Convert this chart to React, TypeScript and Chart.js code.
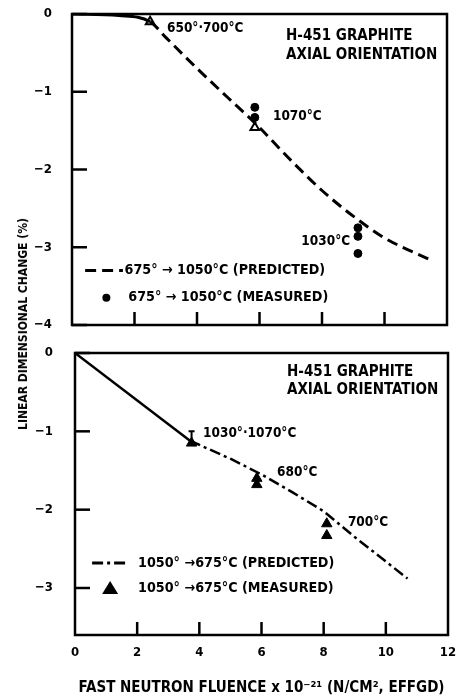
import React, { useEffect, useRef } from "react";
import Chart from "chart.js/auto";

const FONT = '"DejaVu Sans Condensed", "Liberation Sans Narrow", "DejaVu Sans", sans-serif';

// ---- axes ----
const xTicks = [0, 2, 4, 6, 8, 10, 12];
const xInnerTicks = [2, 4, 6, 8, 10];
const topYTicks = [0, -1, -2, -3, -4];
const bottomYTicks = [0, -1, -2, -3];

// ---- top panel data ----
const topPredX = [0, 1.5, 2.5, 3, 4, 5, 5.9, 7, 8, 9, 10, 11.4];
const topPredY = [0, -0.02, -0.1, -0.3, -0.7, -1.08, -1.42, -1.88, -2.27, -2.6, -2.88, -3.15];
const topMeasX = [5.85, 5.85, 9.15, 9.15, 9.15];
const topMeasY = [-1.2, -1.33, -2.75, -2.86, -3.08];
const topOpenTriX = [2.5, 5.85];
const topOpenTriY = [-0.1, -1.46];

// ---- bottom panel data ----
const botPredX = [0, 3.7, 5, 6, 7, 8, 9, 10.7];
const botPredY = [0, -1.12, -1.35, -1.55, -1.78, -2.02, -2.35, -2.88];
const botMeasX = [3.75, 5.85, 5.85, 8.1, 8.1];
const botMeasY = [-1.15, -1.6, -1.68, -2.18, -2.33];
const botErrX = [3.75];
const botErrLo = [-1.15];
const botErrHi = [-1.0];

// ---- text annotations (anchored in data units) ----
const topNotes = [
  { text: "650°·700°C", x: 3.04, y: -0.19, align: "left", kind: "temp" },
  { text: "H-451 GRAPHITE", x: 6.85, y: -0.28, align: "left", kind: "head" },
  { text: "AXIAL ORIENTATION", x: 6.85, y: -0.53, align: "left", kind: "head" },
  { text: "1070°C", x: 6.43, y: -1.32, align: "left", kind: "temp" },
  { text: "1030°C", x: 8.9, y: -2.93, align: "right", kind: "temp" },
];
const botNotes = [
  { text: "H-451 GRAPHITE", x: 6.82, y: -0.24, align: "left", kind: "head" },
  { text: "AXIAL ORIENTATION", x: 6.82, y: -0.47, align: "left", kind: "head" },
  { text: "1030°·1070°C", x: 4.12, y: -1.03, align: "left", kind: "temp" },
  { text: "680°C", x: 6.5, y: -1.53, align: "left", kind: "temp" },
  { text: "700°C", x: 8.78, y: -2.17, align: "left", kind: "temp" },
];
const topLegend = [
  { kind: "dash", x0: 0.42, x1: 1.63, y: -3.3, tx: 1.68, text: "675° → 1050°C (PREDICTED)" },
  { kind: "circle", x0: 1.1, x1: 1.1, y: -3.65, tx: 1.8, text: "675° → 1050°C (MEASURED)" },
];
const botLegend = [
  { kind: "dashdot", x0: 0.55, x1: 1.7, y: -2.68, tx: 2.03, text: "1050° →675°C (PREDICTED)" },
  { kind: "triangle", x0: 1.13, x1: 1.13, y: -3.0, tx: 2.03, text: "1050° →675°C (MEASURED)" },
];

const DASH = [11, 6];
const DASHDOT = [11, 4, 3, 4];
const NOTE_SIZE: Record<string, number> = { head: 15, temp: 13.5 };
const LEGEND_SIZE = 14.2;

function pts(xs: number[], ys: number[]) {
  return xs.map((x, i) => ({ x, y: ys[i] }));
}

function decorPlugin(cfg: any) {
  return {
    id: "decor",
    afterDatasetsDraw(chart: any) {
      const { ctx, chartArea: a, scales } = chart;
      const sx = scales.x, sy = scales.y;
      ctx.save();
      ctx.strokeStyle = "#000";
      ctx.fillStyle = "#000";
      // frame
      ctx.lineWidth = 2.5;
      ctx.strokeRect(a.left, a.top, a.right - a.left, a.bottom - a.top);
      // inward ticks
      cfg.yTicks.forEach((v: number) => {
        const py = sy.getPixelForValue(v);
        ctx.beginPath();
        ctx.moveTo(a.left, py);
        ctx.lineTo(a.left + 15, py);
        ctx.stroke();
      });
      xInnerTicks.forEach((v) => {
        const px = sx.getPixelForValue(v);
        ctx.beginPath();
        ctx.moveTo(px, a.bottom);
        ctx.lineTo(px, a.bottom - 13);
        ctx.stroke();
      });
      // error bars
      (cfg.err || []).forEach((e: any) => {
        const px = sx.getPixelForValue(e.x);
        const p1 = sy.getPixelForValue(e.lo);
        const p2 = sy.getPixelForValue(e.hi);
        ctx.lineWidth = 2;
        ctx.beginPath();
        ctx.moveTo(px, p1);
        ctx.lineTo(px, p2);
        ctx.moveTo(px - 3, p2);
        ctx.lineTo(px + 3, p2);
        ctx.stroke();
      });
      // notes
      ctx.textBaseline = "middle";
      cfg.notes.forEach((n: any) => {
        ctx.font = `bold ${NOTE_SIZE[n.kind]}px ${FONT}`;
        ctx.textAlign = n.align;
        ctx.fillText(n.text, sx.getPixelForValue(n.x), sy.getPixelForValue(n.y));
      });
      // legend
      ctx.font = `bold ${LEGEND_SIZE}px ${FONT}`;
      cfg.legend.forEach((l: any) => {
        const py = sy.getPixelForValue(l.y);
        const p0 = sx.getPixelForValue(l.x0);
        const p1 = sx.getPixelForValue(l.x1);
        if (l.kind === "dash" || l.kind === "dashdot") {
          ctx.lineWidth = 3;
          ctx.setLineDash(l.kind === "dash" ? DASH : DASHDOT);
          ctx.beginPath();
          ctx.moveTo(p0, py);
          ctx.lineTo(p1, py);
          ctx.stroke();
          ctx.setLineDash([]);
        } else if (l.kind === "circle") {
          ctx.beginPath();
          ctx.arc(p0, py, 4, 0, Math.PI * 2);
          ctx.fill();
        } else {
          ctx.beginPath();
          ctx.moveTo(p0, py - 7);
          ctx.lineTo(p0 + 8, py + 6);
          ctx.lineTo(p0 - 8, py + 6);
          ctx.closePath();
          ctx.fill();
        }
        ctx.textAlign = "left";
        ctx.fillText(l.text, sx.getPixelForValue(l.tx), py);
      });
      ctx.restore();
    },
  };
}

function fmt(v: number) {
  return v === 0 ? "0" : "−" + Math.abs(v);
}

export default function App() {
  const topRef = useRef<HTMLCanvasElement>(null);
  const botRef = useRef<HTMLCanvasElement>(null);

  useEffect(() => {
    const tickFont = { family: FONT, size: 13, weight: "bold" as const };
    const top = new Chart(topRef.current!, {
      type: "scatter",
      data: {
        datasets: [
          {
            data: pts(topPredX, topPredY),
            showLine: true,
            borderColor: "#000",
            borderWidth: 3,
            pointRadius: 0,
            cubicInterpolationMode: "monotone",
            segment: { borderDash: (c: any) => (c.p0DataIndex >= 2 ? DASH : undefined) },
          } as any,
          {
            data: pts(topMeasX, topMeasY),
            pointStyle: "circle",
            pointRadius: 4,
            backgroundColor: "#000",
            borderColor: "#000",
            borderWidth: 1,
          },
          {
            data: pts(topOpenTriX, topOpenTriY),
            pointStyle: "triangle",
            pointRadius: 5,
            backgroundColor: "#fff",
            borderColor: "#000",
            borderWidth: 2,
          },
        ],
      },
      options: {
        responsive: false,
        animation: false,
        devicePixelRatio: 1,
        layout: { padding: { top: 14, right: 10, left: 0, bottom: 0 } },
        plugins: { legend: { display: false }, tooltip: { enabled: false } },
        scales: {
          x: {
            type: "linear",
            min: 0,
            max: 12,
            ticks: { display: false, stepSize: 2 },
            grid: { display: false, drawTicks: false },
            border: { display: false },
            afterFit: (s: any) => { s.height = 15; s.paddingLeft = 0; s.paddingRight = 0; },
          },
          y: {
            type: "linear",
            min: -4,
            max: 0,
            ticks: { stepSize: 1, font: tickFont, color: "#000", padding: 20, callback: (v: any) => fmt(Number(v)) },
            afterBuildTicks: (s: any) => { s.ticks = topYTicks.map((v) => ({ value: v })); },
            grid: { display: false, drawTicks: false },
            border: { display: false },
            afterFit: (s: any) => { s.width = 72; s.paddingTop = 0; s.paddingBottom = 0; },
          },
        },
      },
      plugins: [decorPlugin({ yTicks: topYTicks, notes: topNotes, legend: topLegend })],
    });

    const bot = new Chart(botRef.current!, {
      type: "scatter",
      data: {
        datasets: [
          {
            data: pts(botPredX, botPredY),
            showLine: true,
            borderColor: "#000",
            borderWidth: 2.5,
            pointRadius: 0,
            segment: { borderDash: (c: any) => (c.p0DataIndex >= 1 ? DASHDOT : undefined) },
          } as any,
          {
            data: pts(botMeasX, botMeasY),
            pointStyle: "triangle",
            pointRadius: 6,
            backgroundColor: "#000",
            borderColor: "#000",
            borderWidth: 1,
          },
        ],
      },
      options: {
        responsive: false,
        animation: false,
        devicePixelRatio: 1,
        layout: { padding: { top: 13, right: 9, left: 0, bottom: 0 } },
        plugins: { legend: { display: false }, tooltip: { enabled: false } },
        scales: {
          x: {
            type: "linear",
            min: 0,
            max: 12,
            ticks: { stepSize: 2, font: tickFont, color: "#000", padding: 10, maxRotation: 0 },
            afterBuildTicks: (s: any) => { s.ticks = xTicks.map((v) => ({ value: v })); },
            grid: { display: false, drawTicks: false },
            border: { display: false },
            title: {
              display: true,
              text: "FAST NEUTRON FLUENCE x 10⁻²¹ (N/CM², EFFGD)",
              font: { family: FONT, size: 15, weight: "bold" },
              color: "#000",
              padding: { top: 0, bottom: 2 },
            },
            afterFit: (s: any) => { s.height = 64; s.paddingLeft = 0; s.paddingRight = 0; },
          },
          y: {
            type: "linear",
            min: -3.6,
            max: 0,
            ticks: { stepSize: 1, font: tickFont, color: "#000", padding: 22, callback: (v: any) => fmt(Number(v)) },
            afterBuildTicks: (s: any) => { s.ticks = bottomYTicks.map((v) => ({ value: v })); },
            grid: { display: false, drawTicks: false },
            border: { display: false },
            afterFit: (s: any) => { s.width = 75; s.paddingTop = 0; s.paddingBottom = 0; },
          },
        },
      },
      plugins: [
        decorPlugin({
          yTicks: bottomYTicks,
          notes: botNotes,
          legend: botLegend,
          err: botErrX.map((x, i) => ({ x, lo: botErrLo[i], hi: botErrHi[i] })),
        }),
      ],
    });

    return () => {
      top.destroy();
      bot.destroy();
    };
  }, []);

  return (
    <div style={{ position: "absolute", left: 0, top: 0, width: 457, height: 699, background: "#fff", overflow: "hidden" }}>
      <canvas ref={topRef} width={457} height={340} style={{ position: "absolute", left: 0, top: 0 }} />
      <canvas ref={botRef} width={457} height={359} style={{ position: "absolute", left: 0, top: 340 }} />
      <div style={{ position: "absolute", left: 23, top: 324, width: 0, height: 0 }}>
        <div
          style={{
            position: "absolute",
            left: 0,
            top: 0,
            transform: "translate(-50%, -50%) rotate(-90deg)",
            whiteSpace: "nowrap",
            fontFamily: FONT,
            fontWeight: "bold",
            fontSize: 12,
            color: "#000",
          }}
        >
          LINEAR DIMENSIONAL CHANGE (%)
        </div>
      </div>
    </div>
  );
}
